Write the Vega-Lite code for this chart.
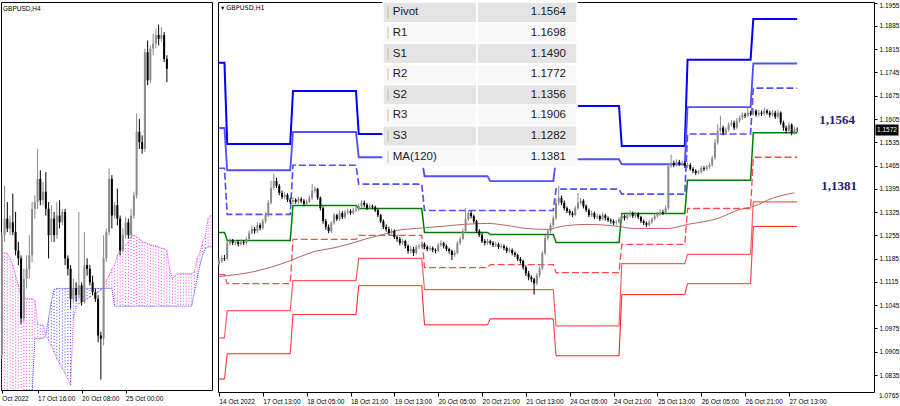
{
"$schema":"https://vega.github.io/schema/vega-lite/v6.json",
"padding":0,
"background":"#ffffff",
"spacing":4,
"config":{"view":{"stroke":"#000000","strokeWidth":1},"font":"Liberation Sans","axis":{"labelOverlap":false,"labelBound":false}},
"datasets":{
"h4":[
{"j":0,"o":1.1106,"h":1.1307,"l":1.1100,"c":1.1302},
{"j":1,"o":1.1302,"h":1.1383,"l":1.1291,"c":1.1329},
{"j":2,"o":1.1329,"h":1.1356,"l":1.1307,"c":1.1313},
{"j":3,"o":1.1313,"h":1.1334,"l":1.1302,"c":1.1323},
{"j":4,"o":1.1323,"h":1.1370,"l":1.1302,"c":1.1307},
{"j":5,"o":1.1307,"h":1.1340,"l":1.1269,"c":1.1277},
{"j":6,"o":1.1277,"h":1.1291,"l":1.1253,"c":1.1264},
{"j":7,"o":1.1264,"h":1.1269,"l":1.1157,"c":1.1166},
{"j":8,"o":1.1166,"h":1.1247,"l":1.1160,"c":1.1231},
{"j":9,"o":1.1231,"h":1.1269,"l":1.1215,"c":1.1247},
{"j":10,"o":1.1247,"h":1.1302,"l":1.1231,"c":1.1269},
{"j":11,"o":1.1269,"h":1.1356,"l":1.1258,"c":1.1345},
{"j":12,"o":1.1345,"h":1.1367,"l":1.1329,"c":1.1356},
{"j":13,"o":1.1356,"h":1.1443,"l":1.1345,"c":1.1394},
{"j":14,"o":1.1394,"h":1.1408,"l":1.1351,"c":1.1359},
{"j":15,"o":1.1359,"h":1.1389,"l":1.1351,"c":1.1373},
{"j":16,"o":1.1373,"h":1.1405,"l":1.1334,"c":1.1345},
{"j":17,"o":1.1345,"h":1.1356,"l":1.1264,"c":1.1302},
{"j":18,"o":1.1302,"h":1.1351,"l":1.1291,"c":1.1329},
{"j":19,"o":1.1329,"h":1.1340,"l":1.1291,"c":1.1302},
{"j":20,"o":1.1302,"h":1.1356,"l":1.1296,"c":1.1334},
{"j":21,"o":1.1334,"h":1.1359,"l":1.1313,"c":1.1323},
{"j":22,"o":1.1323,"h":1.1345,"l":1.1318,"c":1.1340},
{"j":23,"o":1.1340,"h":1.1345,"l":1.1253,"c":1.1264},
{"j":24,"o":1.1264,"h":1.1269,"l":1.1236,"c":1.1247},
{"j":25,"o":1.1247,"h":1.1253,"l":1.1182,"c":1.1198},
{"j":26,"o":1.1198,"h":1.1231,"l":1.1193,"c":1.1215},
{"j":27,"o":1.1215,"h":1.1225,"l":1.1193,"c":1.1204},
{"j":28,"o":1.1204,"h":1.1340,"l":1.1198,"c":1.1220},
{"j":29,"o":1.1220,"h":1.1225,"l":1.1187,"c":1.1193},
{"j":30,"o":1.1193,"h":1.1307,"l":1.1190,"c":1.1253},
{"j":31,"o":1.1253,"h":1.1264,"l":1.1236,"c":1.1247},
{"j":32,"o":1.1247,"h":1.1253,"l":1.1220,"c":1.1225},
{"j":33,"o":1.1225,"h":1.1236,"l":1.1204,"c":1.1209},
{"j":34,"o":1.1209,"h":1.1215,"l":1.1193,"c":1.1198},
{"j":35,"o":1.1198,"h":1.1204,"l":1.1127,"c":1.1138},
{"j":36,"o":1.1138,"h":1.1144,"l":1.1066,"c":1.1133},
{"j":37,"o":1.1133,"h":1.1302,"l":1.1122,"c":1.1264},
{"j":38,"o":1.1264,"h":1.1313,"l":1.1258,"c":1.1307},
{"j":39,"o":1.1307,"h":1.1411,"l":1.1302,"c":1.1394},
{"j":40,"o":1.1394,"h":1.1400,"l":1.1313,"c":1.1334},
{"j":41,"o":1.1334,"h":1.1356,"l":1.1329,"c":1.1351},
{"j":42,"o":1.1351,"h":1.1378,"l":1.1318,"c":1.1329},
{"j":43,"o":1.1329,"h":1.1334,"l":1.1269,"c":1.1277},
{"j":44,"o":1.1277,"h":1.1313,"l":1.1274,"c":1.1302},
{"j":45,"o":1.1302,"h":1.1332,"l":1.1296,"c":1.1323},
{"j":46,"o":1.1323,"h":1.1329,"l":1.1296,"c":1.1302},
{"j":47,"o":1.1302,"h":1.1345,"l":1.1296,"c":1.1334},
{"j":48,"o":1.1334,"h":1.1373,"l":1.1329,"c":1.1367},
{"j":49,"o":1.1367,"h":1.1501,"l":1.1362,"c":1.1471},
{"j":50,"o":1.1471,"h":1.1492,"l":1.1443,"c":1.1454},
{"j":51,"o":1.1454,"h":1.1465,"l":1.1435,"c":1.1443},
{"j":52,"o":1.1443,"h":1.1607,"l":1.1438,"c":1.1601},
{"j":53,"o":1.1601,"h":1.1620,"l":1.1547,"c":1.1555},
{"j":54,"o":1.1555,"h":1.1612,"l":1.1550,"c":1.1607},
{"j":55,"o":1.1607,"h":1.1631,"l":1.1596,"c":1.1615},
{"j":56,"o":1.1615,"h":1.1639,"l":1.1607,"c":1.1629},
{"j":57,"o":1.1629,"h":1.1646,"l":1.1612,"c":1.1623},
{"j":58,"o":1.1623,"h":1.1642,"l":1.1618,"c":1.1629},
{"j":59,"o":1.1629,"h":1.1634,"l":1.1585,"c":1.1590},
{"j":60,"o":1.1590,"h":1.1596,"l":1.1552,"c":1.1574}
],
"cloud":[
{"j":0,"a":1.1274,"b":1.1040},{"j":1,"a":1.1273,"b":1.1040},{"j":2,"a":1.1272,"b":1.1040},{"j":3,"a":1.1264,"b":1.1040},
{"j":4,"a":1.1253,"b":1.1040},{"j":5,"a":1.1236,"b":1.1040},{"j":6,"a":1.1220,"b":1.1040},{"j":7,"a":1.1201,"b":1.1040},
{"j":8,"a":1.1198,"b":1.1040},{"j":9,"a":1.1198,"b":1.1040},{"j":10,"a":1.1198,"b":1.1040},{"j":11,"a":1.1198,"b":1.1040},
{"j":12,"a":1.1195,"b":1.1133},{"j":13,"a":1.1157,"b":1.1133},{"j":14,"a":1.1155,"b":1.1133},{"j":15,"a":1.1155,"b":1.1133},
{"j":16,"a":1.1138,"b":1.1138},{"j":17,"a":1.1130,"b":1.1166},{"j":18,"a":1.1122,"b":1.1193},{"j":19,"a":1.1111,"b":1.1213},
{"j":20,"a":1.1100,"b":1.1215},{"j":21,"a":1.1092,"b":1.1215},{"j":22,"a":1.1084,"b":1.1215},{"j":23,"a":1.1076,"b":1.1215},
{"j":24,"a":1.1067,"b":1.1215},{"j":25,"a":1.1057,"b":1.1215},{"j":26,"a":1.1166,"b":1.1215},{"j":27,"a":1.1185,"b":1.1215},
{"j":28,"a":1.1190,"b":1.1215},{"j":29,"a":1.1193,"b":1.1215},{"j":30,"a":1.1195,"b":1.1215},{"j":31,"a":1.1198,"b":1.1215},
{"j":32,"a":1.1201,"b":1.1215},{"j":33,"a":1.1204,"b":1.1215},{"j":34,"a":1.1206,"b":1.1215},{"j":35,"a":1.1209,"b":1.1215},
{"j":36,"a":1.1212,"b":1.1215},{"j":37,"a":1.1220,"b":1.1215},{"j":38,"a":1.1228,"b":1.1215},{"j":39,"a":1.1236,"b":1.1215},
{"j":40,"a":1.1247,"b":1.1215},{"j":41,"a":1.1253,"b":1.1186},{"j":42,"a":1.1269,"b":1.1186},{"j":43,"a":1.1277,"b":1.1186},
{"j":44,"a":1.1283,"b":1.1186},{"j":45,"a":1.1286,"b":1.1186},{"j":46,"a":1.1291,"b":1.1186},{"j":47,"a":1.1299,"b":1.1186},
{"j":48,"a":1.1302,"b":1.1186},{"j":49,"a":1.1299,"b":1.1186},{"j":50,"a":1.1296,"b":1.1186},{"j":51,"a":1.1291,"b":1.1186},
{"j":52,"a":1.1290,"b":1.1186},{"j":53,"a":1.1288,"b":1.1186},{"j":54,"a":1.1286,"b":1.1186},{"j":55,"a":1.1285,"b":1.1186},
{"j":56,"a":1.1284,"b":1.1186},{"j":57,"a":1.1283,"b":1.1186},{"j":58,"a":1.1281,"b":1.1186},{"j":59,"a":1.1280,"b":1.1186},
{"j":60,"a":1.1277,"b":1.1186},{"j":61,"a":1.1247,"b":1.1186},{"j":62,"a":1.1231,"b":1.1186},{"j":63,"a":1.1236,"b":1.1186},
{"j":64,"a":1.1239,"b":1.1186},{"j":65,"a":1.1239,"b":1.1186},{"j":66,"a":1.1239,"b":1.1186},{"j":67,"a":1.1239,"b":1.1186},
{"j":68,"a":1.1239,"b":1.1186},{"j":69,"a":1.1239,"b":1.1186},{"j":70,"a":1.1242,"b":1.1209},{"j":71,"a":1.1264,"b":1.1231},
{"j":72,"a":1.1274,"b":1.1253},{"j":73,"a":1.1291,"b":1.1269},{"j":74,"a":1.1302,"b":1.1280},{"j":75,"a":1.1329,"b":1.1283},
{"j":76,"a":1.1334,"b":1.1283},{"j":77,"a":1.1334,"b":1.1283}
],
"h1":[
{"i":0,"o":1.1170,"h":1.1186,"l":1.1164,"c":1.1178},
{"i":1,"o":1.1178,"h":1.1195,"l":1.1172,"c":1.1187},
{"i":2,"o":1.1187,"h":1.1196,"l":1.1178,"c":1.1184},
{"i":3,"o":1.1184,"h":1.1240,"l":1.1180,"c":1.1232},
{"i":4,"o":1.1232,"h":1.1247,"l":1.1225,"c":1.1238},
{"i":5,"o":1.1238,"h":1.1244,"l":1.1226,"c":1.1232},
{"i":6,"o":1.1232,"h":1.1241,"l":1.1225,"c":1.1235},
{"i":7,"o":1.1235,"h":1.1240,"l":1.1222,"c":1.1229},
{"i":8,"o":1.1229,"h":1.1243,"l":1.1224,"c":1.1235},
{"i":9,"o":1.1235,"h":1.1240,"l":1.1226,"c":1.1232},
{"i":10,"o":1.1232,"h":1.1250,"l":1.1228,"c":1.1244},
{"i":11,"o":1.1244,"h":1.1270,"l":1.1240,"c":1.1262},
{"i":12,"o":1.1262,"h":1.1285,"l":1.1258,"c":1.1274},
{"i":13,"o":1.1274,"h":1.1280,"l":1.1260,"c":1.1268},
{"i":14,"o":1.1268,"h":1.1295,"l":1.1262,"c":1.1286},
{"i":15,"o":1.1286,"h":1.1292,"l":1.1270,"c":1.1277},
{"i":16,"o":1.1277,"h":1.1305,"l":1.1272,"c":1.1298},
{"i":17,"o":1.1298,"h":1.1325,"l":1.1292,"c":1.1316},
{"i":18,"o":1.1316,"h":1.1362,"l":1.1310,"c":1.1353},
{"i":19,"o":1.1353,"h":1.1420,"l":1.1348,"c":1.1398},
{"i":20,"o":1.1398,"h":1.1441,"l":1.1392,"c":1.1419},
{"i":21,"o":1.1419,"h":1.1428,"l":1.1398,"c":1.1404},
{"i":22,"o":1.1404,"h":1.1410,"l":1.1376,"c":1.1383},
{"i":23,"o":1.1383,"h":1.1390,"l":1.1364,"c":1.1371},
{"i":24,"o":1.1371,"h":1.1385,"l":1.1365,"c":1.1377},
{"i":25,"o":1.1377,"h":1.1382,"l":1.1355,"c":1.1362},
{"i":26,"o":1.1362,"h":1.1368,"l":1.1350,"c":1.1356},
{"i":27,"o":1.1356,"h":1.1370,"l":1.1349,"c":1.1362},
{"i":28,"o":1.1362,"h":1.1367,"l":1.1350,"c":1.1356},
{"i":29,"o":1.1356,"h":1.1372,"l":1.1350,"c":1.1365},
{"i":30,"o":1.1365,"h":1.1370,"l":1.1352,"c":1.1359},
{"i":31,"o":1.1359,"h":1.1364,"l":1.1343,"c":1.1350},
{"i":32,"o":1.1350,"h":1.1362,"l":1.1345,"c":1.1356},
{"i":33,"o":1.1356,"h":1.1375,"l":1.1352,"c":1.1368},
{"i":34,"o":1.1368,"h":1.1410,"l":1.1362,"c":1.1389},
{"i":35,"o":1.1389,"h":1.1402,"l":1.1382,"c":1.1395},
{"i":36,"o":1.1395,"h":1.1398,"l":1.1362,"c":1.1368},
{"i":37,"o":1.1368,"h":1.1372,"l":1.1330,"c":1.1337},
{"i":38,"o":1.1337,"h":1.1342,"l":1.1290,"c":1.1298},
{"i":39,"o":1.1298,"h":1.1305,"l":1.1272,"c":1.1280},
{"i":40,"o":1.1280,"h":1.1288,"l":1.1262,"c":1.1268},
{"i":41,"o":1.1268,"h":1.1298,"l":1.1262,"c":1.1292},
{"i":42,"o":1.1292,"h":1.1322,"l":1.1288,"c":1.1316},
{"i":43,"o":1.1316,"h":1.1320,"l":1.1298,"c":1.1304},
{"i":44,"o":1.1304,"h":1.1330,"l":1.1298,"c":1.1322},
{"i":45,"o":1.1322,"h":1.1328,"l":1.1304,"c":1.1310},
{"i":46,"o":1.1310,"h":1.1332,"l":1.1305,"c":1.1325},
{"i":47,"o":1.1325,"h":1.1336,"l":1.1318,"c":1.1328},
{"i":48,"o":1.1328,"h":1.1334,"l":1.1316,"c":1.1322},
{"i":49,"o":1.1322,"h":1.1338,"l":1.1317,"c":1.1331},
{"i":50,"o":1.1331,"h":1.1342,"l":1.1325,"c":1.1334},
{"i":51,"o":1.1334,"h":1.1350,"l":1.1328,"c":1.1343},
{"i":52,"o":1.1343,"h":1.1362,"l":1.1338,"c":1.1353},
{"i":53,"o":1.1353,"h":1.1360,"l":1.1340,"c":1.1347},
{"i":54,"o":1.1347,"h":1.1352,"l":1.1331,"c":1.1337},
{"i":55,"o":1.1337,"h":1.1350,"l":1.1332,"c":1.1343},
{"i":56,"o":1.1343,"h":1.1348,"l":1.1334,"c":1.1340},
{"i":57,"o":1.1340,"h":1.1345,"l":1.1325,"c":1.1331},
{"i":58,"o":1.1331,"h":1.1336,"l":1.1310,"c":1.1316},
{"i":59,"o":1.1316,"h":1.1320,"l":1.1292,"c":1.1298},
{"i":60,"o":1.1298,"h":1.1303,"l":1.1274,"c":1.1280},
{"i":61,"o":1.1280,"h":1.1288,"l":1.1266,"c":1.1274},
{"i":62,"o":1.1274,"h":1.1280,"l":1.1256,"c":1.1262},
{"i":63,"o":1.1262,"h":1.1276,"l":1.1255,"c":1.1268},
{"i":64,"o":1.1268,"h":1.1273,"l":1.1244,"c":1.1250},
{"i":65,"o":1.1250,"h":1.1256,"l":1.1236,"c":1.1244},
{"i":66,"o":1.1244,"h":1.1250,"l":1.1225,"c":1.1232},
{"i":67,"o":1.1232,"h":1.1245,"l":1.1226,"c":1.1238},
{"i":68,"o":1.1238,"h":1.1242,"l":1.1216,"c":1.1223},
{"i":69,"o":1.1223,"h":1.1228,"l":1.1200,"c":1.1208},
{"i":70,"o":1.1208,"h":1.1222,"l":1.1200,"c":1.1214},
{"i":71,"o":1.1214,"h":1.1220,"l":1.1193,"c":1.1202},
{"i":72,"o":1.1202,"h":1.1226,"l":1.1197,"c":1.1220},
{"i":73,"o":1.1220,"h":1.1230,"l":1.1214,"c":1.1223},
{"i":74,"o":1.1223,"h":1.1236,"l":1.1216,"c":1.1229},
{"i":75,"o":1.1229,"h":1.1234,"l":1.1214,"c":1.1220},
{"i":76,"o":1.1220,"h":1.1225,"l":1.1207,"c":1.1214},
{"i":77,"o":1.1214,"h":1.1224,"l":1.1208,"c":1.1217},
{"i":78,"o":1.1217,"h":1.1222,"l":1.1204,"c":1.1211},
{"i":79,"o":1.1211,"h":1.1216,"l":1.1201,"c":1.1208},
{"i":80,"o":1.1208,"h":1.1233,"l":1.1204,"c":1.1226},
{"i":81,"o":1.1226,"h":1.1240,"l":1.1220,"c":1.1232},
{"i":82,"o":1.1232,"h":1.1236,"l":1.1216,"c":1.1223},
{"i":83,"o":1.1223,"h":1.1228,"l":1.1208,"c":1.1214},
{"i":84,"o":1.1214,"h":1.1218,"l":1.1200,"c":1.1208},
{"i":85,"o":1.1208,"h":1.1212,"l":1.1181,"c":1.1196},
{"i":86,"o":1.1196,"h":1.1210,"l":1.1190,"c":1.1202},
{"i":87,"o":1.1202,"h":1.1238,"l":1.1198,"c":1.1232},
{"i":88,"o":1.1232,"h":1.1252,"l":1.1226,"c":1.1244},
{"i":89,"o":1.1244,"h":1.1276,"l":1.1240,"c":1.1268},
{"i":90,"o":1.1268,"h":1.1337,"l":1.1262,"c":1.1304},
{"i":91,"o":1.1304,"h":1.1330,"l":1.1298,"c":1.1322},
{"i":92,"o":1.1322,"h":1.1328,"l":1.1306,"c":1.1313},
{"i":93,"o":1.1313,"h":1.1318,"l":1.1292,"c":1.1298},
{"i":94,"o":1.1298,"h":1.1302,"l":1.1262,"c":1.1268},
{"i":95,"o":1.1268,"h":1.1274,"l":1.1250,"c":1.1256},
{"i":96,"o":1.1256,"h":1.1262,"l":1.1232,"c":1.1238},
{"i":97,"o":1.1238,"h":1.1244,"l":1.1225,"c":1.1232},
{"i":98,"o":1.1232,"h":1.1245,"l":1.1226,"c":1.1238},
{"i":99,"o":1.1238,"h":1.1242,"l":1.1226,"c":1.1232},
{"i":100,"o":1.1232,"h":1.1238,"l":1.1220,"c":1.1226},
{"i":101,"o":1.1226,"h":1.1236,"l":1.1220,"c":1.1229},
{"i":102,"o":1.1229,"h":1.1234,"l":1.1214,"c":1.1220},
{"i":103,"o":1.1220,"h":1.1230,"l":1.1215,"c":1.1223},
{"i":104,"o":1.1223,"h":1.1228,"l":1.1210,"c":1.1217},
{"i":105,"o":1.1217,"h":1.1222,"l":1.1202,"c":1.1208},
{"i":106,"o":1.1208,"h":1.1218,"l":1.1203,"c":1.1211},
{"i":107,"o":1.1211,"h":1.1216,"l":1.1195,"c":1.1202},
{"i":108,"o":1.1202,"h":1.1207,"l":1.1190,"c":1.1196},
{"i":109,"o":1.1196,"h":1.1200,"l":1.1178,"c":1.1184},
{"i":110,"o":1.1184,"h":1.1190,"l":1.1170,"c":1.1178},
{"i":111,"o":1.1178,"h":1.1182,"l":1.1152,"c":1.1159},
{"i":112,"o":1.1159,"h":1.1165,"l":1.1133,"c":1.1141},
{"i":113,"o":1.1141,"h":1.1148,"l":1.1120,"c":1.1129},
{"i":114,"o":1.1129,"h":1.1135,"l":1.1115,"c":1.1123},
{"i":115,"o":1.1123,"h":1.1128,"l":1.1077,"c":1.1111},
{"i":116,"o":1.1111,"h":1.1142,"l":1.1105,"c":1.1135},
{"i":117,"o":1.1135,"h":1.1162,"l":1.1128,"c":1.1156},
{"i":118,"o":1.1156,"h":1.1208,"l":1.1150,"c":1.1202},
{"i":119,"o":1.1202,"h":1.1255,"l":1.1196,"c":1.1247},
{"i":120,"o":1.1247,"h":1.1275,"l":1.1240,"c":1.1268},
{"i":121,"o":1.1268,"h":1.1292,"l":1.1262,"c":1.1286},
{"i":122,"o":1.1286,"h":1.1315,"l":1.1280,"c":1.1307},
{"i":123,"o":1.1307,"h":1.1364,"l":1.1302,"c":1.1353},
{"i":124,"o":1.1353,"h":1.1404,"l":1.1345,"c":1.1368},
{"i":125,"o":1.1368,"h":1.1375,"l":1.1346,"c":1.1353},
{"i":126,"o":1.1353,"h":1.1360,"l":1.1330,"c":1.1337},
{"i":127,"o":1.1337,"h":1.1342,"l":1.1322,"c":1.1328},
{"i":128,"o":1.1328,"h":1.1334,"l":1.1315,"c":1.1322},
{"i":129,"o":1.1322,"h":1.1328,"l":1.1310,"c":1.1316},
{"i":130,"o":1.1316,"h":1.1344,"l":1.1312,"c":1.1337},
{"i":131,"o":1.1337,"h":1.1383,"l":1.1332,"c":1.1353},
{"i":132,"o":1.1353,"h":1.1368,"l":1.1348,"c":1.1359},
{"i":133,"o":1.1359,"h":1.1364,"l":1.1336,"c":1.1343},
{"i":134,"o":1.1343,"h":1.1348,"l":1.1325,"c":1.1331},
{"i":135,"o":1.1331,"h":1.1336,"l":1.1310,"c":1.1316},
{"i":136,"o":1.1316,"h":1.1330,"l":1.1310,"c":1.1322},
{"i":137,"o":1.1322,"h":1.1327,"l":1.1304,"c":1.1310},
{"i":138,"o":1.1310,"h":1.1320,"l":1.1304,"c":1.1313},
{"i":139,"o":1.1313,"h":1.1318,"l":1.1298,"c":1.1304},
{"i":140,"o":1.1304,"h":1.1324,"l":1.1300,"c":1.1316},
{"i":141,"o":1.1316,"h":1.1320,"l":1.1300,"c":1.1307},
{"i":142,"o":1.1307,"h":1.1312,"l":1.1295,"c":1.1301},
{"i":143,"o":1.1301,"h":1.1306,"l":1.1290,"c":1.1298},
{"i":144,"o":1.1298,"h":1.1303,"l":1.1286,"c":1.1292},
{"i":145,"o":1.1292,"h":1.1302,"l":1.1287,"c":1.1295},
{"i":146,"o":1.1295,"h":1.1310,"l":1.1290,"c":1.1304},
{"i":147,"o":1.1304,"h":1.1320,"l":1.1298,"c":1.1313},
{"i":148,"o":1.1313,"h":1.1318,"l":1.1300,"c":1.1307},
{"i":149,"o":1.1307,"h":1.1324,"l":1.1302,"c":1.1316},
{"i":150,"o":1.1316,"h":1.1330,"l":1.1310,"c":1.1322},
{"i":151,"o":1.1322,"h":1.1327,"l":1.1307,"c":1.1313},
{"i":152,"o":1.1313,"h":1.1325,"l":1.1308,"c":1.1319},
{"i":153,"o":1.1319,"h":1.1324,"l":1.1304,"c":1.1310},
{"i":154,"o":1.1310,"h":1.1314,"l":1.1292,"c":1.1298},
{"i":155,"o":1.1298,"h":1.1303,"l":1.1286,"c":1.1292},
{"i":156,"o":1.1292,"h":1.1297,"l":1.1280,"c":1.1286},
{"i":157,"o":1.1286,"h":1.1302,"l":1.1282,"c":1.1295},
{"i":158,"o":1.1295,"h":1.1310,"l":1.1290,"c":1.1304},
{"i":159,"o":1.1304,"h":1.1320,"l":1.1300,"c":1.1313},
{"i":160,"o":1.1313,"h":1.1326,"l":1.1308,"c":1.1319},
{"i":161,"o":1.1319,"h":1.1334,"l":1.1314,"c":1.1325},
{"i":162,"o":1.1325,"h":1.1332,"l":1.1316,"c":1.1322},
{"i":163,"o":1.1322,"h":1.1345,"l":1.1318,"c":1.1337},
{"i":164,"o":1.1337,"h":1.1470,"l":1.1332,"c":1.1464},
{"i":165,"o":1.1464,"h":1.1498,"l":1.1458,"c":1.1473},
{"i":166,"o":1.1473,"h":1.1480,"l":1.1460,"c":1.1467},
{"i":167,"o":1.1467,"h":1.1484,"l":1.1462,"c":1.1476},
{"i":168,"o":1.1476,"h":1.1482,"l":1.1464,"c":1.1470},
{"i":169,"o":1.1470,"h":1.1480,"l":1.1465,"c":1.1473},
{"i":170,"o":1.1473,"h":1.1478,"l":1.1458,"c":1.1464},
{"i":171,"o":1.1464,"h":1.1474,"l":1.1458,"c":1.1467},
{"i":172,"o":1.1467,"h":1.1472,"l":1.1450,"c":1.1455},
{"i":173,"o":1.1455,"h":1.1460,"l":1.1442,"c":1.1449},
{"i":174,"o":1.1449,"h":1.1454,"l":1.1436,"c":1.1443},
{"i":175,"o":1.1443,"h":1.1452,"l":1.1438,"c":1.1446},
{"i":176,"o":1.1446,"h":1.1464,"l":1.1441,"c":1.1458},
{"i":177,"o":1.1458,"h":1.1463,"l":1.1448,"c":1.1455},
{"i":178,"o":1.1455,"h":1.1467,"l":1.1450,"c":1.1461},
{"i":179,"o":1.1461,"h":1.1474,"l":1.1456,"c":1.1467},
{"i":180,"o":1.1467,"h":1.1495,"l":1.1462,"c":1.1488},
{"i":181,"o":1.1488,"h":1.1545,"l":1.1482,"c":1.1534},
{"i":182,"o":1.1534,"h":1.1589,"l":1.1528,"c":1.1570},
{"i":183,"o":1.1570,"h":1.1615,"l":1.1565,"c":1.1579},
{"i":184,"o":1.1579,"h":1.1585,"l":1.1556,"c":1.1564},
{"i":185,"o":1.1564,"h":1.1580,"l":1.1558,"c":1.1573},
{"i":186,"o":1.1573,"h":1.1595,"l":1.1567,"c":1.1588},
{"i":187,"o":1.1588,"h":1.1602,"l":1.1582,"c":1.1594},
{"i":188,"o":1.1594,"h":1.1600,"l":1.1572,"c":1.1579},
{"i":189,"o":1.1579,"h":1.1608,"l":1.1574,"c":1.1600},
{"i":190,"o":1.1600,"h":1.1616,"l":1.1594,"c":1.1609},
{"i":191,"o":1.1609,"h":1.1625,"l":1.1602,"c":1.1618},
{"i":192,"o":1.1618,"h":1.1624,"l":1.1608,"c":1.1615},
{"i":193,"o":1.1615,"h":1.1640,"l":1.1610,"c":1.1624},
{"i":194,"o":1.1624,"h":1.1630,"l":1.1614,"c":1.1621},
{"i":195,"o":1.1621,"h":1.1637,"l":1.1615,"c":1.1630},
{"i":196,"o":1.1630,"h":1.1634,"l":1.1612,"c":1.1618},
{"i":197,"o":1.1618,"h":1.1632,"l":1.1612,"c":1.1624},
{"i":198,"o":1.1624,"h":1.1630,"l":1.1614,"c":1.1621},
{"i":199,"o":1.1621,"h":1.1640,"l":1.1615,"c":1.1630},
{"i":200,"o":1.1630,"h":1.1635,"l":1.1618,"c":1.1624},
{"i":201,"o":1.1624,"h":1.1630,"l":1.1610,"c":1.1618},
{"i":202,"o":1.1618,"h":1.1632,"l":1.1612,"c":1.1624},
{"i":203,"o":1.1624,"h":1.1630,"l":1.1605,"c":1.1612},
{"i":204,"o":1.1612,"h":1.1633,"l":1.1606,"c":1.1624},
{"i":205,"o":1.1624,"h":1.1628,"l":1.1588,"c":1.1594},
{"i":206,"o":1.1594,"h":1.1600,"l":1.1570,"c":1.1579},
{"i":207,"o":1.1579,"h":1.1585,"l":1.1562,"c":1.1570},
{"i":208,"o":1.1570,"h":1.1595,"l":1.1562,"c":1.1588},
{"i":209,"o":1.1588,"h":1.1592,"l":1.1556,"c":1.1564},
{"i":210,"o":1.1564,"h":1.1582,"l":1.1558,"c":1.1573},
{"i":211,"o":1.1573,"h":1.1580,"l":1.1565,"c":1.1572}
],
"piv":[
{"i":0,"R3":1.1774,"R2":1.1578,"R1":1.1457,"P":1.1264,"S1":1.1137,"S2":1.0947,"S3":1.0823},
{"i":2,"R3":1.1774,"R2":1.1578,"R1":1.1457,"P":1.1264,"S1":1.1137,"S2":1.0947,"S3":1.0823},
{"i":3,"R3":1.1530,"R2":1.1451,"R1":1.1318,"P":1.1240,"S1":1.1110,"S2":1.1029,"S3":1.0899},
{"i":26,"R3":1.1530,"R2":1.1451,"R1":1.1318,"P":1.1240,"S1":1.1110,"S2":1.1029,"S3":1.0899},
{"i":27,"R3":1.1689,"R2":1.1566,"R1":1.1466,"P":1.1345,"S1":1.1243,"S2":1.1119,"S3":1.1017},
{"i":50,"R3":1.1689,"R2":1.1566,"R1":1.1466,"P":1.1345,"S1":1.1243,"S2":1.1119,"S3":1.1017},
{"i":51,"R3":1.1560,"R2":1.1490,"R1":1.1409,"P":1.1336,"S1":1.1255,"S2":1.1186,"S3":1.1104},
{"i":74,"R3":1.1560,"R2":1.1490,"R1":1.1409,"P":1.1336,"S1":1.1255,"S2":1.1186,"S3":1.1104},
{"i":75,"R3":1.1499,"R2":1.1433,"R1":1.1330,"P":1.1264,"S1":1.1158,"S2":1.1092,"S3":1.0986},
{"i":98,"R3":1.1499,"R2":1.1433,"R1":1.1330,"P":1.1264,"S1":1.1158,"S2":1.1092,"S3":1.0986},
{"i":99,"R3":1.1490,"R2":1.1418,"R1":1.1330,"P":1.1258,"S1":1.1167,"S2":1.1092,"S3":1.1004},
{"i":122,"R3":1.1490,"R2":1.1418,"R1":1.1330,"P":1.1258,"S1":1.1167,"S2":1.1092,"S3":1.1004},
{"i":123,"R3":1.1644,"R2":1.1484,"R1":1.1394,"P":1.1234,"S1":1.1143,"S2":1.0983,"S3":1.0893},
{"i":146,"R3":1.1644,"R2":1.1484,"R1":1.1394,"P":1.1234,"S1":1.1143,"S2":1.0983,"S3":1.0893},
{"i":147,"R3":1.1524,"R2":1.1469,"R1":1.1379,"P":1.1321,"S1":1.1228,"S2":1.1170,"S3":1.1077},
{"i":170,"R3":1.1524,"R2":1.1469,"R1":1.1379,"P":1.1321,"S1":1.1228,"S2":1.1170,"S3":1.1077},
{"i":171,"R3":1.1783,"R2":1.1641,"R1":1.1560,"P":1.1421,"S1":1.1336,"S2":1.1198,"S3":1.1110},
{"i":194,"R3":1.1783,"R2":1.1641,"R1":1.1560,"P":1.1421,"S1":1.1336,"S2":1.1198,"S3":1.1110},
{"i":195,"R3":1.1906,"R2":1.1772,"R1":1.1698,"P":1.1564,"S1":1.1490,"S2":1.1356,"S3":1.1282},
{"i":211,"R3":1.1906,"R2":1.1772,"R1":1.1698,"P":1.1564,"S1":1.1490,"S2":1.1356,"S3":1.1282}
],
"ma":[
{"i":0,"ma":1.1131},{"i":3,"ma":1.1134},{"i":11,"ma":1.1143},{"i":17,"ma":1.1155},{"i":23,"ma":1.1170},
{"i":29,"ma":1.1189},{"i":35,"ma":1.1207},{"i":41,"ma":1.1216},{"i":47,"ma":1.1228},{"i":53,"ma":1.1243},
{"i":60,"ma":1.1258},{"i":65,"ma":1.1270},{"i":72,"ma":1.1276},{"i":81,"ma":1.1282},{"i":89,"ma":1.1288},
{"i":98,"ma":1.1291},{"i":105,"ma":1.1285},{"i":112,"ma":1.1276},{"i":120,"ma":1.1273},{"i":125,"ma":1.1282},
{"i":134,"ma":1.1288},{"i":146,"ma":1.1282},{"i":151,"ma":1.1276},{"i":164,"ma":1.1276},{"i":171,"ma":1.1288},
{"i":182,"ma":1.1306},{"i":190,"ma":1.1333},{"i":195,"ma":1.1342},{"i":202,"ma":1.1367},{"i":210,"ma":1.1383}
],
"tbl":[
{"label":"Pivot","value":1.1564},{"label":"R1","value":1.1698},{"label":"S1","value":1.1490},{"label":"R2","value":1.1772},
{"label":"S2","value":1.1356},{"label":"R3","value":1.1906},{"label":"S3","value":1.1282},{"label":"MA(120)","value":1.1381}
]
},
"hconcat":[
{
"width":211,"height":388,
"title":{"text":"GBPUSD,H4","anchor":"start","frame":"group","offset":-10,"dx":2,"fontSize":6.5,"font":"Liberation Sans","fontWeight":"normal","color":"#000000"},
"layer":[
{"data":{"name":"cloud"},"mark":{"type":"rule","clip":true,"strokeWidth":1,"strokeDash":[1,2]},
 "encoding":{
  "x":{"field":"j","type":"quantitative","scale":{"domain":[-0.3,76.4],"nice":false,"zero":false},
   "axis":{"title":null,"values":[0,13,29,45],"tickCount":10,"labelExpr":"datum.value==0?'Oct 2022':datum.value==13?'17 Oct 16:00':datum.value==29?'20 Oct 08:00':'25 Oct 00:00'","labelAlign":"left","labelFlush":false,"labelBound":false,"labelOverlap":false,"labelPadding":2,"tickSize":3,"labelFontSize":6.5,"labelFont":"Liberation Sans","labelColor":"#000000","tickColor":"#000000","domain":false,"grid":false}},
  "y":{"field":"a","type":"quantitative","scale":{"domain":[1.1049,1.1683],"nice":false,"zero":false},"axis":null},
  "y2":{"field":"b"},
  "color":{"condition":{"test":"datum.a >= datum.b","value":"#f040f0"},"value":"#4040f0"}
 }},
{"data":{"name":"cloud"},"mark":{"type":"line","clip":true,"strokeWidth":1,"strokeDash":[1,1],"color":"#f040f0"},
 "encoding":{
  "x":{"field":"j","type":"quantitative","title":null,"scale":{"domain":[-0.3,76.4],"nice":false,"zero":false}},
  "y":{"field":"a","type":"quantitative","scale":{"domain":[1.1049,1.1683],"nice":false,"zero":false},"axis":null}
 }},
{"data":{"name":"cloud"},"mark":{"type":"line","clip":true,"strokeWidth":1,"strokeDash":[1,1],"color":"#4040f0"},
 "encoding":{
  "x":{"field":"j","type":"quantitative","title":null,"scale":{"domain":[-0.3,76.4],"nice":false,"zero":false}},
  "y":{"field":"b","type":"quantitative","scale":{"domain":[1.1049,1.1683],"nice":false,"zero":false},"axis":null}
 }},
{"data":{"name":"h4"},"mark":{"type":"rule","clip":true,"strokeWidth":1},
 "encoding":{
  "x":{"field":"j","type":"quantitative","title":null,"scale":{"domain":[-0.3,76.4],"nice":false,"zero":false}},
  "y":{"field":"h","type":"quantitative","scale":{"domain":[1.1049,1.1683],"nice":false,"zero":false},"axis":null},
  "y2":{"field":"l"},
  "color":{"condition":{"test":"datum.c >= datum.o","value":"#8a8a8a"},"value":"#000000"}
 }},
{"data":{"name":"h4"},"mark":{"type":"rule","clip":true,"strokeWidth":2},
 "encoding":{
  "x":{"field":"j","type":"quantitative","title":null,"scale":{"domain":[-0.3,76.4],"nice":false,"zero":false}},
  "y":{"field":"o","type":"quantitative","scale":{"domain":[1.1049,1.1683],"nice":false,"zero":false},"axis":null},
  "y2":{"field":"c"},
  "color":{"condition":{"test":"datum.c >= datum.o","value":"#8a8a8a"},"value":"#000000"}
 }}
]
},
{
"width":656,"height":390,
"title":{"text":"▾ GBPUSD,H1","anchor":"start","frame":"group","offset":-10,"dx":3,"fontSize":6.5,"font":"DejaVu Sans","fontWeight":"normal","color":"#000000"},
"resolve":{"scale":{"y":"independent"}},
"layer":[
{"layer":[
 {"data":{"name":"piv"},
  "transform":[{"fold":["R3","R2","R1","P","S1","S2","S3"],"as":["lv","v"]}],
  "mark":{"type":"line","clip":true},
  "encoding":{
   "x":{"field":"i","type":"quantitative","scale":{"domain":[-0.36,239.05],"nice":false,"zero":false},
    "axis":{"title":null,"values":[0,16,32,48,64,80,96,112,128,144,160,176,192,208],"tickCount":30,
     "labelExpr":"['14 Oct 2022','17 Oct 13:00','18 Oct 05:00','18 Oct 21:00','19 Oct 13:00','20 Oct 05:00','20 Oct 21:00','21 Oct 13:00','24 Oct 05:00','24 Oct 21:00','25 Oct 13:00','26 Oct 05:00','26 Oct 21:00','27 Oct 13:00'][round(datum.value/16)]",
     "labelAlign":"left","labelFlush":false,"labelBound":false,"labelOverlap":false,"labelPadding":2,"labelDx":1,"tickSize":4,"labelFontSize":6.5,"labelFont":"Liberation Sans","labelColor":"#000000","tickColor":"#000000","domain":false,"grid":false}},
   "y":{"field":"v","type":"quantitative","scale":{"domain":[1.0784,1.1957],"nice":false,"zero":false},
    "axis":{"title":null,"orient":"right","values":[1.0835,1.0905,1.0975,1.1045,1.1115,1.1185,1.1255,1.1325,1.1395,1.1465,1.1535,1.1605,1.1675,1.1745,1.1815,1.1885,1.1955],"tickCount":30,"format":".4f","labelFlush":true,"labelOverlap":false,"labelBound":false,"labelPadding":2,"tickSize":3,"labelFontSize":6.5,"labelFont":"Liberation Sans","labelColor":"#000000","tickColor":"#000000","domain":false,"grid":false}},
   "detail":{"field":"lv","type":"nominal"},
   "color":{"field":"lv","type":"nominal","scale":{"domain":["R3","R2","R1","P","S1","S2","S3"],"range":["#0000ff","#5050ff","#5050ff","#007d00","#ff4a4a","#ff5a5a","#ff0000"]},"legend":null},
   "strokeWidth":{"field":"lv","type":"nominal","scale":{"domain":["R3","R2","R1","P","S1","S2","S3"],"range":[2,1,1,2,1,1,2]},"legend":null},
   "strokeDash":{"field":"lv","type":"nominal","scale":{"domain":["R3","R2","R1","P","S1","S2","S3"],"range":[[1,0],[1,0],[7,3],[1,0],[7,3],[1,0],[1,0]]},"legend":null}
  }},
 {"data":{"name":"ma"},"mark":{"type":"line","clip":true,"strokeWidth":1,"color":"#c06262","interpolate":"monotone"},
  "encoding":{
   "x":{"field":"i","type":"quantitative","title":null,"scale":{"domain":[-0.36,239.05],"nice":false,"zero":false}},
   "y":{"field":"ma","type":"quantitative","title":null,"scale":{"domain":[1.0784,1.1957],"nice":false,"zero":false}}
  }},
 {"data":{"name":"h1"},"mark":{"type":"rule","clip":true,"strokeWidth":1},
  "encoding":{
   "x":{"field":"i","type":"quantitative","title":null,"scale":{"domain":[-0.36,239.05],"nice":false,"zero":false}},
   "y":{"field":"h","type":"quantitative","title":null,"scale":{"domain":[1.0784,1.1957],"nice":false,"zero":false}},
   "y2":{"field":"l"},
   "color":{"condition":{"test":"datum.c >= datum.o","value":"#8a8a8a"},"value":"#000000"}
  }},
 {"data":{"name":"h1"},"mark":{"type":"rule","clip":true,"strokeWidth":2},
  "encoding":{
   "x":{"field":"i","type":"quantitative","title":null,"scale":{"domain":[-0.36,239.05],"nice":false,"zero":false}},
   "y":{"field":"o","type":"quantitative","title":null,"scale":{"domain":[1.0784,1.1957],"nice":false,"zero":false}},
   "y2":{"field":"c"},
   "color":{"condition":{"test":"datum.c >= datum.o","value":"#8a8a8a"},"value":"#000000"}
  }},
 {"data":{"values":[{"txt":"1,1564","v":1.1564}]},"mark":{"type":"text","font":"Liberation Serif","fontWeight":"bold","fontSize":13,"color":"#1c1c6e","align":"center","baseline":"middle","dy":-12.5},
  "encoding":{
   "x":{"datum":225.6,"type":"quantitative","title":null,"scale":{"domain":[-0.36,239.05],"nice":false,"zero":false}},
   "y":{"field":"v","type":"quantitative","title":null,"scale":{"domain":[1.0784,1.1957],"nice":false,"zero":false}},
   "text":{"field":"txt"}
  }},
 {"data":{"values":[{"txt":"1,1381","v":1.1381}]},"mark":{"type":"text","font":"Liberation Serif","fontWeight":"bold","fontSize":13,"color":"#1c1c6e","align":"center","baseline":"middle","dy":-7.5},
  "encoding":{
   "x":{"datum":226.3,"type":"quantitative","title":null,"scale":{"domain":[-0.36,239.05],"nice":false,"zero":false}},
   "y":{"field":"v","type":"quantitative","title":null,"scale":{"domain":[1.0784,1.1957],"nice":false,"zero":false}},
   "text":{"field":"txt"}
  }},
 {"data":{"values":[{"p":1.1572}]},"mark":{"type":"rule","strokeWidth":11,"color":"#000000"},
  "encoding":{
   "x":{"datum":239.6,"type":"quantitative","title":null,"scale":{"domain":[-0.36,239.05],"nice":false,"zero":false}},
   "x2":{"datum":248.0},
   "y":{"field":"p","type":"quantitative","title":null,"scale":{"domain":[1.0784,1.1957],"nice":false,"zero":false}}
  }},
 {"data":{"values":[{"p":1.1572}]},"mark":{"type":"text","font":"Liberation Sans","fontSize":6.5,"color":"#ffffff","align":"center","baseline":"middle"},
  "encoding":{
   "x":{"datum":243.8,"type":"quantitative","title":null,"scale":{"domain":[-0.36,239.05],"nice":false,"zero":false}},
   "y":{"field":"p","type":"quantitative","title":null,"scale":{"domain":[1.0784,1.1957],"nice":false,"zero":false}},
   "text":{"field":"p","type":"quantitative","format":".4f"}
  }},
 {"data":{"values":[{"p":1.0765}]},"mark":{"type":"text","font":"Liberation Sans","fontSize":6.5,"color":"#000000","align":"left","baseline":"middle","dy":-2},
  "encoding":{
   "x":{"datum":240.9,"type":"quantitative","title":null,"scale":{"domain":[-0.36,239.05],"nice":false,"zero":false}},
   "y":{"field":"p","type":"quantitative","title":null,"scale":{"domain":[1.0784,1.1957],"nice":false,"zero":false}},
   "text":{"field":"p","type":"quantitative","format":".4f"}
  }}
]},
{"data":{"name":"tbl"},
 "layer":[
  {"mark":{"type":"rect","stroke":"#ffffff","strokeWidth":1.5},
   "encoding":{
    "x":{"datum":59.86,"type":"quantitative","title":null,"scale":{"domain":[-0.36,239.05],"nice":false,"zero":false}},
    "x2":{"datum":94.17},
    "y":{"field":"label","type":"nominal","sort":null,"scale":{"domain":["Pivot","R1","S1","R2","S2","R3","S3","MA(120)"],"range":[0,165],"paddingInner":0,"paddingOuter":0},"axis":null},
    "fill":{"field":"label","type":"nominal","scale":{"domain":["Pivot","R1","S1","R2","S2","R3","S3","MA(120)"],"range":["#e4e4e4","#f8f8f8","#e4e4e4","#f8f8f8","#e4e4e4","#f8f8f8","#e4e4e4","#f8f8f8"]},"legend":null}
   }},
  {"mark":{"type":"rect","stroke":"#ffffff","strokeWidth":1.5},
   "encoding":{
    "x":{"datum":94.17,"type":"quantitative","title":null,"scale":{"domain":[-0.36,239.05],"nice":false,"zero":false}},
    "x2":{"datum":130.66},
    "y":{"field":"label","type":"nominal","sort":null,"scale":{"domain":["Pivot","R1","S1","R2","S2","R3","S3","MA(120)"],"range":[0,165],"paddingInner":0,"paddingOuter":0},"axis":null},
    "fill":{"field":"label","type":"nominal","scale":{"domain":["Pivot","R1","S1","R2","S2","R3","S3","MA(120)"],"range":["#e4e4e4","#f8f8f8","#e4e4e4","#f8f8f8","#e4e4e4","#f8f8f8","#e4e4e4","#f8f8f8"]},"legend":null}
   }},
  {"mark":{"type":"tick","thickness":1,"size":12,"color":"#c9a262"},
   "encoding":{
    "x":{"datum":61.7,"type":"quantitative","title":null,"scale":{"domain":[-0.36,239.05],"nice":false,"zero":false}},
    "y":{"field":"label","type":"nominal","sort":null,"scale":{"domain":["Pivot","R1","S1","R2","S2","R3","S3","MA(120)"],"range":[0,165],"paddingInner":0,"paddingOuter":0},"axis":null}
   }},
  {"mark":{"type":"text","align":"left","baseline":"middle","font":"Liberation Sans","fontSize":11.5,"color":"#1a1a1a"},
   "encoding":{
    "x":{"datum":63.4,"type":"quantitative","title":null,"scale":{"domain":[-0.36,239.05],"nice":false,"zero":false}},
    "y":{"field":"label","type":"nominal","sort":null,"scale":{"domain":["Pivot","R1","S1","R2","S2","R3","S3","MA(120)"],"range":[0,165],"paddingInner":0,"paddingOuter":0},"axis":null},
    "text":{"field":"label"}
   }},
  {"mark":{"type":"text","align":"right","baseline":"middle","font":"Liberation Sans","fontSize":11.5,"color":"#1a1a1a"},
   "encoding":{
    "x":{"datum":126.65,"type":"quantitative","title":null,"scale":{"domain":[-0.36,239.05],"nice":false,"zero":false}},
    "y":{"field":"label","type":"nominal","sort":null,"scale":{"domain":["Pivot","R1","S1","R2","S2","R3","S3","MA(120)"],"range":[0,165],"paddingInner":0,"paddingOuter":0},"axis":null},
    "text":{"field":"value","type":"quantitative","format":".4f"}
   }}
 ]}
]
}
]
}
